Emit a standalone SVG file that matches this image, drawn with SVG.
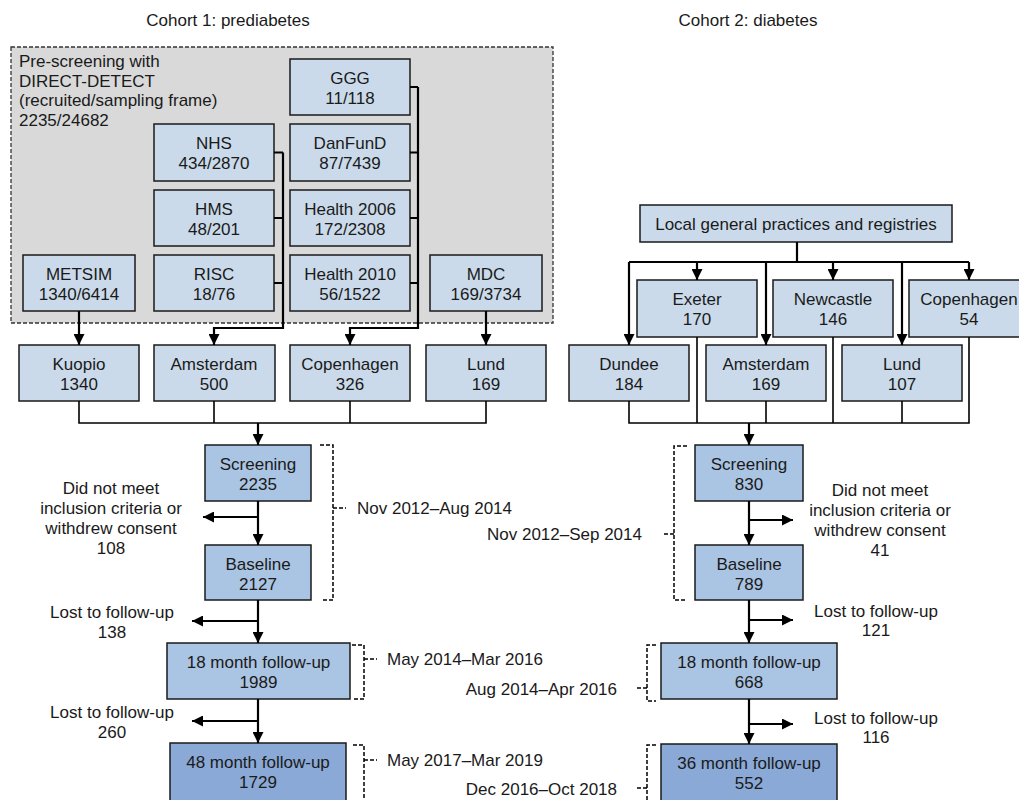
<svg xmlns="http://www.w3.org/2000/svg" width="1019" height="800" viewBox="0 0 1019 800">
<style>
text{font-family:"Liberation Sans",Arial,sans-serif;font-size:17px;fill:#1a1a1a}
.c{text-anchor:middle}
.e{text-anchor:end}
.lb{fill:#cadaea;stroke:#1a1a1a;stroke-width:1.5}
.mb{fill:#aac4e3;stroke:#1a1a1a;stroke-width:1.5}
.db{fill:#8aa9d6;stroke:#1a1a1a;stroke-width:1.5}
.ln{fill:none;stroke:#000;stroke-width:2.2}
.mg{fill:none;stroke:#000;stroke-width:1.6}
.br{fill:none;stroke:#000;stroke-width:1.5;stroke-dasharray:4 2}
</style>
<defs>
<marker id="ah" markerUnits="userSpaceOnUse" markerWidth="11" markerHeight="11" refX="10" refY="5" orient="auto" viewBox="0 0 10 10">
<path d="M0,0 L10,5 L0,10 z" fill="#000"/>
</marker>
</defs>
<text class="c" x="228" y="26">Cohort 1: prediabetes</text>
<text class="c" x="748" y="26">Cohort 2: diabetes</text>
<g id="prescreening">
<rect x="11" y="47" width="542" height="276" fill="#d9d9d9" stroke="#333" stroke-width="1.3" stroke-dasharray="4 2"/>
<text x="19" y="67">Pre-screening with</text>
<text x="19" y="86.5">DIRECT-DETECT</text>
<text x="19" y="106">(recruited/sampling frame)</text>
<text x="19" y="125.5">2235/24682</text>
</g>
<g id="metsim"><rect class="lb" x="23" y="255" width="112" height="56"/><text class="c" x="79" y="280">METSIM</text><text class="c" x="79" y="300">1340/6414</text></g>
<g id="nhs"><rect class="lb" x="154" y="124" width="120" height="57"/><text class="c" x="214" y="149">NHS</text><text class="c" x="214" y="169">434/2870</text></g>
<g id="hms"><rect class="lb" x="154" y="190" width="120" height="56"/><text class="c" x="214" y="215">HMS</text><text class="c" x="214" y="235">48/201</text></g>
<g id="risc"><rect class="lb" x="154" y="255" width="120" height="56"/><text class="c" x="214" y="280">RISC</text><text class="c" x="214" y="300">18/76</text></g>
<g id="ggg"><rect class="lb" x="290" y="59" width="120" height="56"/><text class="c" x="350" y="84">GGG</text><text class="c" x="350" y="104">11/118</text></g>
<g id="danfund"><rect class="lb" x="290" y="124" width="120" height="57"/><text class="c" x="350" y="149">DanFunD</text><text class="c" x="350" y="169">87/7439</text></g>
<g id="health2006"><rect class="lb" x="290" y="190" width="120" height="56"/><text class="c" x="350" y="215">Health 2006</text><text class="c" x="350" y="235">172/2308</text></g>
<g id="health2010"><rect class="lb" x="290" y="255" width="120" height="56"/><text class="c" x="350" y="280">Health 2010</text><text class="c" x="350" y="300">56/1522</text></g>
<g id="mdc"><rect class="lb" x="430" y="255" width="112" height="56"/><text class="c" x="486" y="280">MDC</text><text class="c" x="486" y="300">169/3734</text></g>
<g id="kuopio"><rect class="lb" x="19" y="345" width="120" height="56"/><text class="c" x="79" y="370">Kuopio</text><text class="c" x="79" y="390">1340</text></g>
<g id="amsterdam1"><rect class="lb" x="154" y="345" width="121" height="56"/><text class="c" x="214" y="370">Amsterdam</text><text class="c" x="214" y="390">500</text></g>
<g id="copenhagen1"><rect class="lb" x="290" y="345" width="120" height="56"/><text class="c" x="350" y="370">Copenhagen</text><text class="c" x="350" y="390">326</text></g>
<g id="lund1"><rect class="lb" x="426" y="345" width="120" height="56"/><text class="c" x="486" y="370">Lund</text><text class="c" x="486" y="390">169</text></g>
<g id="screening1"><rect class="mb" x="205" y="445" width="106" height="56"/><text class="c" x="258" y="470">Screening</text><text class="c" x="258" y="490">2235</text></g>
<g id="baseline1"><rect class="mb" x="205" y="545" width="106" height="55"/><text class="c" x="258" y="570">Baseline</text><text class="c" x="258" y="590">2127</text></g>
<g id="fu18a"><rect class="mb" x="167" y="643" width="183" height="56"/><text class="c" x="258.5" y="668">18 month follow-up</text><text class="c" x="258.5" y="688">1989</text></g>
<g id="fu48"><rect class="db" x="170" y="743" width="176" height="62"/><text class="c" x="258" y="768">48 month follow-up</text><text class="c" x="258" y="788">1729</text></g>
<g id="local"><rect class="lb" x="640" y="205" width="312" height="37"/><text class="c" x="796" y="230">Local general practices and registries</text></g>
<g id="exeter"><rect class="lb" x="637" y="280" width="120" height="57"/><text class="c" x="697" y="305">Exeter</text><text class="c" x="697" y="325">170</text></g>
<g id="newcastle"><rect class="lb" x="773" y="280" width="120" height="57"/><text class="c" x="833" y="305">Newcastle</text><text class="c" x="833" y="325">146</text></g>
<g id="copenhagen2"><rect class="lb" x="909" y="280" width="120" height="57"/><text class="c" x="969" y="305">Copenhagen</text><text class="c" x="969" y="325">54</text></g>
<g id="dundee"><rect class="lb" x="569" y="345" width="120" height="56"/><text class="c" x="629" y="370">Dundee</text><text class="c" x="629" y="390">184</text></g>
<g id="amsterdam2"><rect class="lb" x="706" y="345" width="120" height="56"/><text class="c" x="766" y="370">Amsterdam</text><text class="c" x="766" y="390">169</text></g>
<g id="lund2"><rect class="lb" x="842" y="345" width="120" height="56"/><text class="c" x="902" y="370">Lund</text><text class="c" x="902" y="390">107</text></g>
<g id="screening2"><rect class="mb" x="695" y="445" width="108" height="56"/><text class="c" x="749" y="470">Screening</text><text class="c" x="749" y="490">830</text></g>
<g id="baseline2"><rect class="mb" x="695" y="545" width="108" height="55"/><text class="c" x="749" y="570">Baseline</text><text class="c" x="749" y="590">789</text></g>
<g id="fu18b"><rect class="mb" x="661" y="643" width="176" height="56"/><text class="c" x="749" y="668">18 month follow-up</text><text class="c" x="749" y="688">668</text></g>
<g id="fu36"><rect class="db" x="661" y="744" width="176" height="62"/><text class="c" x="749" y="769">36 month follow-up</text><text class="c" x="749" y="789">552</text></g>
<g id="connectors">
<path class="ln" d="M79,311 V345" marker-end="url(#ah)"/>
<path class="ln" d="M274,152.5 H283 M274,218 H283 M274,283 H283"/>
<path class="ln" d="M283,152.5 V328 H214 V345" marker-end="url(#ah)"/>
<path class="ln" d="M410,87 H418 M410,152.5 H418 M410,218 H418 M410,283 H418"/>
<path class="ln" d="M418,87 V328 H350 V345" marker-end="url(#ah)"/>
<path class="ln" d="M486,311 V345" marker-end="url(#ah)"/>
<path class="mg" d="M79,401 V423 H486 V401 M214,401 V423 M350,401 V423"/>
<path class="ln" d="M258,423 V445" marker-end="url(#ah)"/>
<path class="ln" d="M258,501 V545" marker-end="url(#ah)"/>
<path class="ln" d="M258,517 H203" marker-end="url(#ah)"/>
<path class="ln" d="M258,600 V643" marker-end="url(#ah)"/>
<path class="ln" d="M258,621 H192" marker-end="url(#ah)"/>
<path class="ln" d="M258,699 V743" marker-end="url(#ah)"/>
<path class="ln" d="M258,721 H192" marker-end="url(#ah)"/>
<path class="ln" d="M797,242 V262 M629,262 H969"/>
<path class="ln" d="M629,262 V345" marker-end="url(#ah)"/>
<path class="ln" d="M697,262 V280" marker-end="url(#ah)"/>
<path class="ln" d="M766,262 V345" marker-end="url(#ah)"/>
<path class="ln" d="M833,262 V280" marker-end="url(#ah)"/>
<path class="ln" d="M902,262 V345" marker-end="url(#ah)"/>
<path class="ln" d="M969,262 V280" marker-end="url(#ah)"/>
<path class="mg" d="M629,401 V423 H969 V337 M697,337 V423 M766,401 V423 M833,337 V423 M902,401 V423"/>
<path class="ln" d="M749,423 V445" marker-end="url(#ah)"/>
<path class="ln" d="M749,501 V545" marker-end="url(#ah)"/>
<path class="ln" d="M749,520 H793" marker-end="url(#ah)"/>
<path class="ln" d="M749,600 V643" marker-end="url(#ah)"/>
<path class="ln" d="M749,620 H793" marker-end="url(#ah)"/>
<path class="ln" d="M749,699 V744" marker-end="url(#ah)"/>
<path class="ln" d="M749,724 H793" marker-end="url(#ah)"/>
<path class="br" d="M320,445 H333 V600 H322 M333,508 H346"/>
<path class="br" d="M352,645 H364 V699 H352 M364,659 H377"/>
<path class="br" d="M353,745 H364 V805 M364,760 H377"/>
<path class="br" d="M687,446 H674 V600 H687 M674,534 H662"/>
<path class="br" d="M656,645 H647 V701 H656 M647,688 H637"/>
<path class="br" d="M656,745 H647 V805 M647,788 H637"/>
</g>
<g id="labels">
<text class="c" x="111" y="494">Did not meet</text>
<text class="c" x="111" y="514">inclusion criteria or</text>
<text class="c" x="111" y="534">withdrew consent</text>
<text class="c" x="111" y="554">108</text>
<text class="c" x="112" y="618">Lost to follow-up</text>
<text class="c" x="112" y="637.5">138</text>
<text class="c" x="112" y="718">Lost to follow-up</text>
<text class="c" x="112" y="738">260</text>
<text class="c" x="880" y="496">Did not meet</text>
<text class="c" x="880" y="516">inclusion criteria or</text>
<text class="c" x="880" y="536">withdrew consent</text>
<text class="c" x="880" y="556">41</text>
<text class="c" x="876" y="617">Lost to follow-up</text>
<text class="c" x="876" y="636">121</text>
<text class="c" x="876" y="724">Lost to follow-up</text>
<text class="c" x="876" y="743">116</text>
<text x="357" y="514">Nov 2012–Aug 2014</text>
<text x="387" y="665">May 2014–Mar 2016</text>
<text x="387" y="766">May 2017–Mar 2019</text>
<text class="e" x="642" y="540">Nov 2012–Sep 2014</text>
<text class="e" x="617" y="695">Aug 2014–Apr 2016</text>
<text class="e" x="617" y="795">Dec 2016–Oct 2018</text>
</g>
</svg>
